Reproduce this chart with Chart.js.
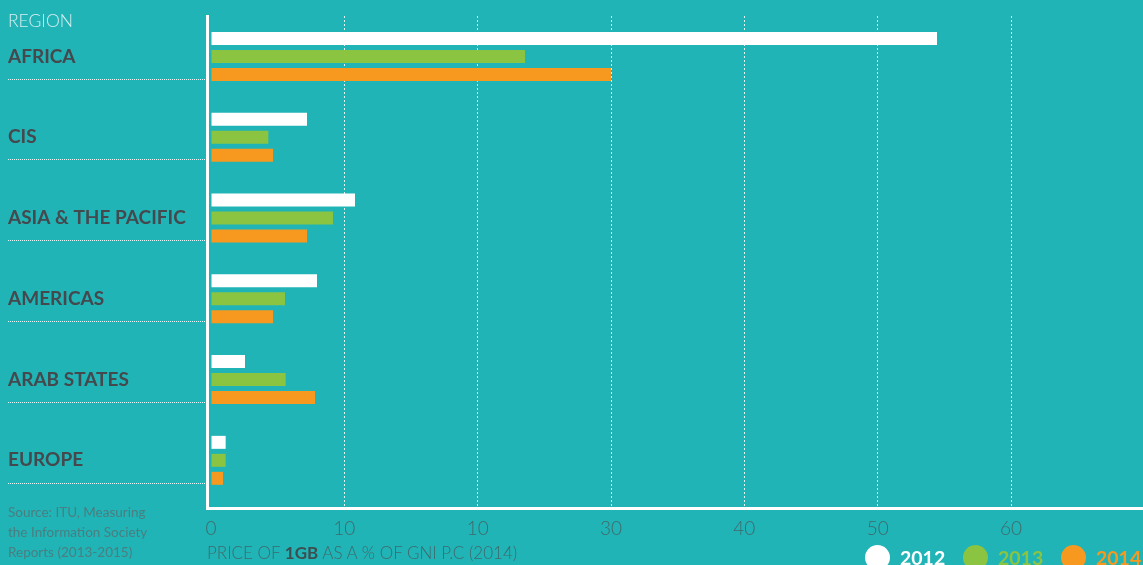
<!DOCTYPE html>
<html>
<head>
<meta charset="utf-8">
<title>Price of 1GB by region</title>
<script src="https://cdn.jsdelivr.net/npm/chart.js@4/dist/chart.umd.min.js"></script>
<style>
  html, body { margin: 0; padding: 0; background: #21b4b6; overflow: hidden; }
  #wrap { position: relative; width: 1143px; height: 565px; font-family: Lato, 'Open Sans', sans-serif; }
  #chart { position: absolute; left: 0; top: 0; }
  .region { position: absolute; left: 8px; top: 10px; font-size: 17.5px; font-weight: 300; color: #d6eff0; }
  .source { position: absolute; left: 8px; top: 502px; font-size: 13.5px; line-height: 20px; color: #4a7e81; font-weight: 400; }
  .xtitle { position: absolute; left: 207px; top: 542px; font-size: 17px; font-weight: 300; color: #3e6a6d; white-space: nowrap; }
  .xtitle b { font-weight: 700; color: #3d4d50; }
  .leg { position: absolute; top: 545px; display: flex; align-items: center; white-space: nowrap; }
  .leg i { display: inline-block; width: 25px; height: 25px; border-radius: 50%; margin-right: 10px; }
  .leg span { font-size: 19.5px; font-weight: 700; }
</style>
</head>
<body>
<div id="wrap">
  <canvas id="chart" width="1143" height="565"></canvas>
  <div class="region">REGION</div>
  <div class="source">Source: ITU, Measuring<br>the Information Society<br>Reports (2013-2015)</div>
  <div class="xtitle">PRICE OF <b>1GB</b> AS A % OF GNI P.C (2014)</div>
  <div id="legend"></div>
</div>
<script>
// --- Data ---
const categories = ['AFRICA', 'CIS', 'ASIA & THE PACIFIC', 'AMERICAS', 'ARAB STATES', 'EUROPE'];
const years = ['2012', '2013', '2014'];
const values2012 = [54.45, 7.2, 10.8, 7.95, 2.55, 1.1];
const values2013 = [23.55, 4.3, 9.15, 5.55, 5.6, 1.1];
const values2014 = [30.0, 4.65, 7.2, 4.65, 7.8, 0.9];
const xTickValues = [0, 10, 20, 30, 40, 50, 60];
const xTickLabels = ['0', '10', '10', '30', '40', '50', '60']; // as printed on the original

const COLORS = ['#ffffff', '#8ac440', '#f8991f'];
const SEPARATOR_OFFSET = 0.275;

function toPoints(vals) { return vals.map((v, i) => ({ x: v, y: i })); }

// --- Legend (html) ---
const legendLeft = [865, 963, 1061];
document.getElementById('legend').innerHTML = years.map((y, i) =>
  `<div class="leg" style="left:${legendLeft[i]}px"><i style="background:${COLORS[i]}"></i><span style="color:${COLORS[i]}">${y}</span></div>`
).join('');

// dotted separators under each region name, placed by the y scale
const separators = {
  id: 'separators',
  afterDraw(c) {
    const y = c.scales.y, ctx = c.ctx;
    ctx.save();
    ctx.strokeStyle = 'rgba(255,255,255,0.9)';
    ctx.lineWidth = 1;
    ctx.setLineDash([1, 1]);
    categories.forEach((cat, i) => {
      const py = Math.round(y.getPixelForValue(i + SEPARATOR_OFFSET)) + 0.5;
      ctx.beginPath();
      ctx.moveTo(8, py);
      ctx.lineTo(c.chartArea.left - 2, py);
      ctx.stroke();
    });
    ctx.restore();
  }
};

// --- Chart ---
const chart = new Chart(document.getElementById('chart'), {
  type: 'bar',
  data: {
    datasets: [
      { label: years[0], data: toPoints(values2012), backgroundColor: COLORS[0] },
      { label: years[1], data: toPoints(values2013), backgroundColor: COLORS[1] },
      { label: years[2], data: toPoints(values2014), backgroundColor: COLORS[2] }
    ]
  },
  options: {
    indexAxis: 'y',
    responsive: false,
    animation: false,
    categoryPercentage: 0.668,
    barPercentage: 0.722,
    layout: { padding: { left: 8, top: 16, right: 0, bottom: 0 } },
    plugins: { legend: { display: false }, tooltip: { enabled: false } },
    scales: {
      x: {
        type: 'linear',
        position: 'bottom',
        min: -0.3,
        max: 69.9,
        afterBuildTicks: s => { s.ticks = xTickValues.map(v => ({ value: v })); },
        afterFit: s => { s.height = 57; },
        border: { color: '#ffffff', width: 3, dash: [2, 2] },
        grid: {
          drawTicks: false,
          lineWidth: 1,
          color: c => c.tick && c.tick.value === 0 ? 'rgba(0,0,0,0)' : 'rgba(255,255,255,0.85)'
        },
        ticks: {
          padding: 9,
          color: '#3e6a6d',
          font: { family: 'Lato', size: 19, weight: '300' },
          callback: (v, i) => xTickLabels[i]
        }
      },
      y: {
        type: 'linear',
        position: 'left',
        reverse: true,
        offset: false,
        min: -0.5,
        max: 5.59,
        afterBuildTicks: s => { s.ticks = categories.map((c, i) => ({ value: i })); },
        afterFit: s => { s.width = 199; },
        border: { color: '#ffffff', width: 3 },
        grid: { display: false, offset: false },
        ticks: {
          crossAlign: 'far',
          color: '#45484d',
          font: { family: 'Lato', size: 19, weight: 'bold' },
          callback: v => categories[v]
        }
      }
    }
  },
  plugins: [separators]
});
</script>
</body>
</html>
